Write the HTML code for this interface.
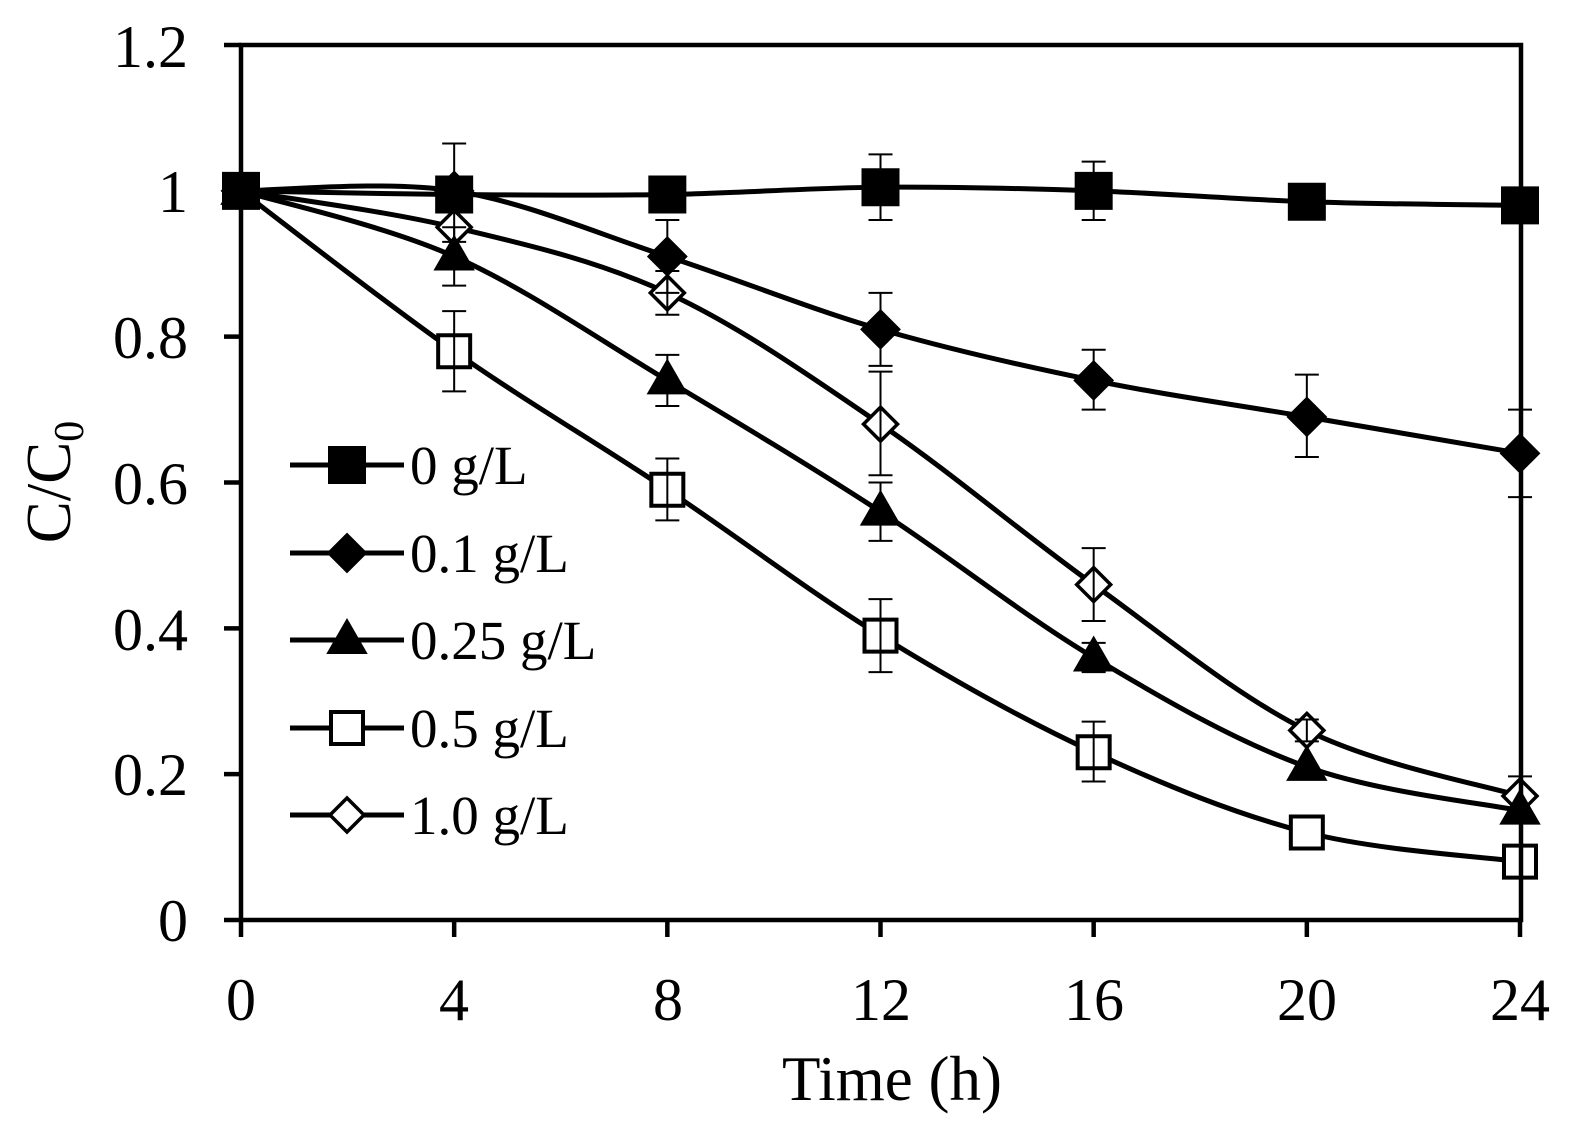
<!DOCTYPE html>
<html><head><meta charset="utf-8"><style>
html,body{margin:0;padding:0;background:#fff;}
svg{display:block;font-family:"Liberation Serif",serif;}
</style></head><body>
<svg id="s" width="1584" height="1144" viewBox="0 0 1584 1144" xmlns="http://www.w3.org/2000/svg">
<rect x="0" y="0" width="1584" height="1144" fill="#fff"/>
<g id="plot"></g>
<rect x="241" y="45" width="1280" height="875" fill="none" stroke="#000" stroke-width="4.5"/>
<g stroke="#000" stroke-width="4" id="ticks"></g>
<g font-size="60" fill="#000" text-anchor="end">
<text x="188" y="941">0</text>
<text x="188" y="795">0.2</text>
<text x="188" y="650">0.4</text>
<text x="188" y="504">0.6</text>
<text x="188" y="358">0.8</text>
<text x="188" y="212">1</text>
<text x="188" y="67">1.2</text>
</g>
<g font-size="60" fill="#000" text-anchor="middle">
<text x="241" y="1020">0</text>
<text x="454" y="1020">4</text>
<text x="668" y="1020">8</text>
<text x="881" y="1020">12</text>
<text x="1094" y="1020">16</text>
<text x="1307" y="1020">20</text>
<text x="1520" y="1020">24</text>
</g>
<text x="892" y="1100" font-size="63" text-anchor="middle">Time (h)</text>
<text transform="translate(70,482) rotate(-90)" font-size="63" text-anchor="middle">C/C<tspan font-size="42" dy="13">0</tspan></text>
<g font-size="55" fill="#000" id="legtext">
<text x="410" y="484">0 g/L</text>
<text x="410" y="572">0.1 g/L</text>
<text x="410" y="659">0.25 g/L</text>
<text x="410" y="747">0.5 g/L</text>
<text x="410" y="834">1.0 g/L</text>
</g>
</svg>
<script>
var NS="http://www.w3.org/2000/svg";
function X(t){return 241+t*1279/24;}
function Y(v){return 920-v*875/1.2;}
var ticks=document.getElementById('ticks');
function ln(p,x1,y1,x2,y2,w){var l=document.createElementNS(NS,'line');l.setAttribute('x1',x1);l.setAttribute('y1',y1);l.setAttribute('x2',x2);l.setAttribute('y2',y2);l.setAttribute('stroke','#000');l.setAttribute('stroke-width',w);p.appendChild(l);}
for(var i=0;i<=6;i++){ln(ticks,224,Y(i*0.2),241,Y(i*0.2),4.5);}
for(var i=0;i<=6;i++){ln(ticks,X(i*4),920,X(i*4),937,4.5);}
var T=[0,4,8,12,16,20,24];
var S=[
{m:'fsq',v:[1,0.995,0.995,1.005,1.0,0.985,0.98],e:[null,[1.065,0.93],null,[1.05,0.96],[1.04,0.96],null,null]},
{m:'fdi',v:[1,1.0,0.91,0.81,0.74,0.69,0.64],e:[null,null,[0.96,0.86],[0.86,0.76],[0.782,0.70],[0.748,0.635],[0.70,0.58]]},
{m:'tri',v:[1,0.91,0.74,0.56,0.36,0.21,0.15],e:[null,[0.95,0.87],[0.775,0.705],[0.60,0.52],[0.38,0.34],null,null]},
{m:'osq',v:[1,0.78,0.59,0.39,0.23,0.12,0.08],e:[null,[0.835,0.725],[0.633,0.548],[0.44,0.34],[0.272,0.19],null,null]},
{m:'odi',v:[1,0.95,0.86,0.68,0.46,0.26,0.17],e:[null,null,[0.89,0.83],[0.752,0.61],[0.51,0.41],[0.275,0.245],[0.197,0.145]]}
];
var g=document.getElementById('plot');
function path(d,fill,sw){var p=document.createElementNS(NS,'path');p.setAttribute('d',d);p.setAttribute('fill',fill);p.setAttribute('stroke','#000');p.setAttribute('stroke-width',sw);p.setAttribute('stroke-linejoin','miter');g.appendChild(p);}
function marker(m,x,y){
 if(m=='fsq')path('M'+(x-18)+','+(y-18)+'h36v36h-36z','#000',2);
 if(m=='osq')path('M'+(x-16)+','+(y-16)+'h32v32h-32z','#fff',4);
 if(m=='fdi')path('M'+x+','+(y-19)+'l19,19l-19,19l-19,-19z','#000',2);
 if(m=='odi')path('M'+x+','+(y-17)+'l17,17l-17,17l-17,-17z','#fff',3.5);
 if(m=='tri')path('M'+x+','+(y-20)+'l19,33h-38z','#000',2);
}
S.forEach(function(s){
 var P=T.map(function(t,i){return [X(t),Y(s.v[i])];});
 var d='M'+P[0][0]+','+P[0][1];
 for(var i=0;i<P.length-1;i++){
  var p0=P[Math.max(i-1,0)],p1=P[i],p2=P[i+1],p3=P[Math.min(i+2,P.length-1)];
  var c1=[p1[0]+(p2[0]-p0[0])/6,p1[1]+(p2[1]-p0[1])/6];
  var c2=[p2[0]-(p3[0]-p1[0])/6,p2[1]-(p3[1]-p1[1])/6];
  d+='C'+c1[0]+','+c1[1]+' '+c2[0]+','+c2[1]+' '+p2[0]+','+p2[1];
 }
 path(d,'none',5);
});
S.slice().reverse().forEach(function(s){
 T.forEach(function(t,i){marker(s.m,X(t),Y(s.v[i]));});
 T.forEach(function(t,i){var e=s.e[i];if(!e)return;var x=X(t);
  ln(g,x,Y(e[0]),x,Y(e[1]),2);ln(g,x-12,Y(e[0]),x+12,Y(e[0]),2);ln(g,x-12,Y(e[1]),x+12,Y(e[1]),2);});
});
var ly=[465,553,640,728,815];
S.forEach(function(s,i){ln(g,290,ly[i],404,ly[i],5);marker(s.m,347,ly[i]);});
</script>
</body></html>
